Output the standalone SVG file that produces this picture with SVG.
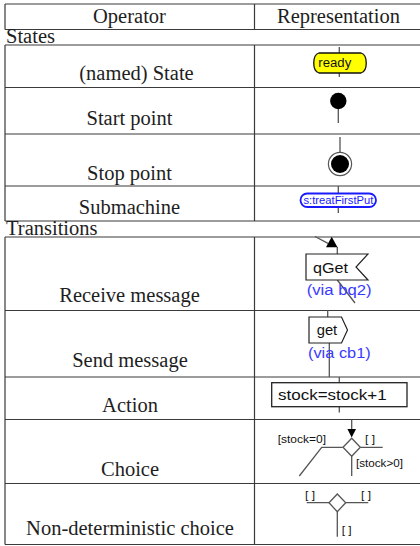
<svg xmlns="http://www.w3.org/2000/svg" width="420" height="546" viewBox="0 0 420 546">
<style>
.tl{stroke:#3a3a3a;stroke-width:1.2;fill:none}
.tt{font-family:"Liberation Serif","Times New Roman",serif;font-size:20.5px;fill:#1e1e1e}
.c{stroke:#555;stroke-width:1.3;fill:none}
.lbl{font-family:"Liberation Sans",Arial,sans-serif;fill:#111}
.blue{font-family:"Liberation Sans",Arial,sans-serif;fill:#3a3aff}
</style>
<rect width="420" height="546" fill="#fff"/>
<g id="table">
<path class="tl" d="M5,4H420M5,29.5H420M5,45H420M5,87.5H420M5,134H420M5,186H420M5,221H420M5,237H420M5,310.5H420M5,377H420M5,419.5H420M5,483.5H420M5,544.5H420"/>
<path class="tl" d="M5,4V29.5M254.5,4V29.5M5,45V221M254.5,45V221M5,237V544.5M254.5,237V544.5"/>
<text class="tt" x="129.5" y="23" text-anchor="middle">Operator</text>
<text class="tt" x="338.5" y="23" text-anchor="middle">Representation</text>
<text class="tt" x="6" y="43">States</text>
<text class="tt" x="136.5" y="80" text-anchor="middle">(named) State</text>
<text class="tt" x="129.5" y="125" text-anchor="middle">Start point</text>
<text class="tt" x="129.5" y="180" text-anchor="middle">Stop point</text>
<text class="tt" x="129.5" y="214" text-anchor="middle">Submachine</text>
<text class="tt" x="6" y="235">Transitions</text>
<text class="tt" x="129.5" y="302" text-anchor="middle">Receive message</text>
<text class="tt" x="130" y="367" text-anchor="middle">Send message</text>
<text class="tt" x="130" y="412" text-anchor="middle">Action</text>
<text class="tt" x="130" y="476" text-anchor="middle">Choice</text>
<text class="tt" x="130" y="535" text-anchor="middle">Non-deterministic choice</text>
</g>
<g id="connectors">
<path class="c" d="M339.3,47V53M339.3,73V77"/>
<path class="c" d="M338.3,108V123"/>
<path class="c" d="M340,137V152.5"/>
<path class="c" d="M338.3,186V193M338.3,207V213"/>
<path class="c" d="M315,236.5L328,243.3M337.3,247V254M337.3,280L355,303"/>
<path class="c" d="M327.7,310V317M329.3,343V377"/>
<path class="c" d="M339.3,377V383M339.3,407V412.5"/>
<path class="c" d="M351.7,420V430M342.7,447.3H321.7L299.3,476M360.3,447.3H382.7M351.7,456.3V476"/>
<path class="c" d="M329,502.7H306.7M345.7,502.7H368.3M337.3,511.7V536.7"/>
</g>
<g id="state-ready">
<path d="M319,53H361C368,55 368,71 361,73H319C312,71 312,55 319,53Z" fill="#ffff00" stroke="#111" stroke-width="1.3"/>
<text class="lbl" x="334.8" y="67" font-size="12" text-anchor="middle" textLength="33" lengthAdjust="spacingAndGlyphs">ready</text>
</g>
<g id="start-point">
<circle cx="338.3" cy="101" r="8.2" fill="#000"/>
</g>
<g id="stop-point">
<circle cx="340" cy="164" r="11.6" fill="#fff" stroke="#555" stroke-width="1.2"/>
<circle cx="340" cy="164" r="9" fill="#000"/>
</g>
<g id="submachine">
<rect x="300.5" y="193.5" width="75.5" height="13.5" rx="6.75" fill="#fff" stroke="#1a1aff" stroke-width="1.8"/>
<text x="338.5" y="203.5" font-size="10" text-anchor="middle" textLength="70" lengthAdjust="spacingAndGlyphs" font-family="Liberation Sans,Arial,sans-serif" fill="#1a1aff">s:treatFirstPut</text>
</g>
<g id="receive-message">
<path d="M331.7,236.7L337.5,247.3H326Z" fill="#000"/>
<path d="M306,254H368L356,267L368,280H306Z" fill="#fff" stroke="#222" stroke-width="1.2"/>
<text class="lbl" x="313" y="273" font-size="15" textLength="35" lengthAdjust="spacingAndGlyphs">qGet</text>
<text class="blue" x="306.7" y="295" font-size="14" textLength="65" lengthAdjust="spacingAndGlyphs">(via bq2)</text>
</g>
<g id="send-message">
<path d="M309,317H341.5L347.5,330L341.5,343H309Z" fill="#fff" stroke="#222" stroke-width="1.2"/>
<text class="lbl" x="316.7" y="335" font-size="14" textLength="20.5" lengthAdjust="spacingAndGlyphs">get</text>
<text class="blue" x="308" y="358" font-size="14" textLength="62.7" lengthAdjust="spacingAndGlyphs">(via cb1)</text>
</g>
<g id="action">
<rect x="271.7" y="382.7" width="135.3" height="24" fill="#fff" stroke="#222" stroke-width="1.3"/>
<text class="lbl" x="278" y="399.5" font-size="15" textLength="108.7" lengthAdjust="spacingAndGlyphs">stock=stock+1</text>
</g>
<g id="choice">
<path d="M351.7,437.5L356,429H347.4Z" fill="#000"/>
<path d="M351.7,438.3L360.3,447.3L351.7,456.3L343,447.3Z" fill="#fff" stroke="#555" stroke-width="1.3"/>
<text class="lbl" x="277.7" y="442.7" font-size="10" textLength="48.3" lengthAdjust="spacingAndGlyphs">[stock=0]</text>
<text class="lbl" x="365" y="442.5" font-size="10" textLength="10" lengthAdjust="spacingAndGlyphs">[ ]</text>
<text class="lbl" x="356" y="466.7" font-size="10" textLength="47" lengthAdjust="spacingAndGlyphs">[stock&gt;0]</text>
</g>
<g id="nondeterministic-choice">
<path d="M337.3,494L345.7,502.7L337.3,511.7L329,502.7Z" fill="#fff" stroke="#555" stroke-width="1.3"/>
<text class="lbl" x="305" y="499.3" font-size="10" textLength="10" lengthAdjust="spacingAndGlyphs">[ ]</text>
<text class="lbl" x="361" y="499.3" font-size="10" textLength="10" lengthAdjust="spacingAndGlyphs">[ ]</text>
<text class="lbl" x="341.7" y="534" font-size="10" textLength="10" lengthAdjust="spacingAndGlyphs">[ ]</text>
</g>
</svg>
